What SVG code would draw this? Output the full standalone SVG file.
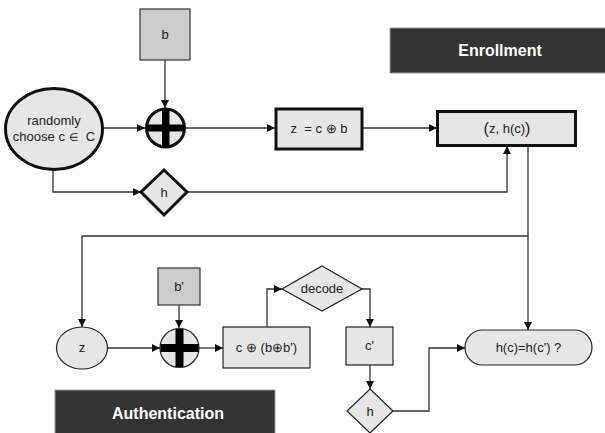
<svg xmlns="http://www.w3.org/2000/svg" width="605" height="433" viewBox="0 0 605 433">
  <style>
    .t { font-family: "Liberation Sans", Arial, sans-serif; font-size: 13px; fill: #222; text-anchor: middle; white-space: pre; }
    .lbl { font-family: "Liberation Sans", Arial, sans-serif; font-size: 16px; font-weight: bold; fill: #fff; text-anchor: middle; }
    .light { fill: #e6e6e6; stroke: #222; stroke-width: 1.2; }
    .lightb { fill: #e6e6e6; stroke: #111; stroke-width: 3; }
    .mid { fill: #cccccc; stroke: #333; stroke-width: 1.2; }
    .banner { fill: #333333; stroke: #999; stroke-width: 1; }
    .bar { fill: #000; }
    .wire { fill: none; stroke: #333; stroke-width: 1.3; }
    .arr { marker-end: url(#ah); }
  </style>
  <defs>
    <marker id="ah" viewBox="0 0 10 10" refX="10" refY="5" markerWidth="8" markerHeight="8" markerUnits="userSpaceOnUse" orient="auto">
      <path d="M0,0 L10,5 L0,10 Z" fill="#111"/>
    </marker>
  </defs>

  <rect width="605" height="433" fill="#fff"/>

  <!-- connectors -->
  <g id="connectors">
    <path class="wire arr" d="M165,60 V108"/>
    <path class="wire arr" d="M103,128 H145"/>
    <path class="wire arr" d="M185,128 H275"/>
    <path class="wire arr" d="M363,128 H437"/>
    <path class="wire arr" d="M53,170 V192 H141"/>
    <path class="wire arr" d="M188,192 H507 V146"/>
    <path class="wire arr" d="M528,146 V236 H82 V327"/>
    <path class="wire arr" d="M528,236 V330"/>
    <path class="wire arr" d="M108,348 H160"/>
    <path class="wire arr" d="M179,305 V328"/>
    <path class="wire arr" d="M199,348 H223"/>
    <path class="wire arr" d="M267,327 V289 H282"/>
    <path class="wire arr" d="M362,289 H370 V327"/>
    <path class="wire arr" d="M370,365 V389"/>
    <path class="wire arr" d="M393,411 H429 V348 H465"/>
  </g>

  <!-- enrollment -->
  <g id="banner-enrollment">
    <rect class="banner" x="390" y="28" width="216" height="45"/>
    <text class="lbl" x="500" y="56">Enrollment</text>
  </g>

  <g id="b">
    <rect class="mid" x="140" y="9" width="50" height="51"/>
    <text class="t" x="165" y="39">b</text>
  </g>

  <g id="choose">
    <ellipse class="lightb" cx="54" cy="129" rx="48.5" ry="40.5"/>
    <text class="t" x="54" y="125">randomly</text>
    <text class="t" x="54" y="141">choose c <tspan font-size="11">∈</tspan>&#160; C</text>
  </g>

  <g id="xor1">
    <circle class="lightb" cx="165.5" cy="128" r="19"/>
    <rect class="bar" x="146.5" y="124.5" width="38" height="7"/>
    <rect class="bar" x="162" y="109" width="7.5" height="38"/>
  </g>

  <g id="zbox">
    <rect class="lightb" x="276" y="109" width="86" height="40"/>
    <text class="t" x="319" y="133">z&#160; = c ⊕ b</text>
  </g>

  <g id="hash1">
    <polygon class="lightb" points="164,170 187,192 164,215 141,192"/>
    <text class="t" x="164" y="197">h</text>
  </g>

  <g id="helper">
    <rect class="lightb" x="437.5" y="111.5" width="138" height="34"/>
    <text class="t" x="507" y="133"><tspan font-size="16" dy="1">(</tspan><tspan dy="-1">z, h(c)</tspan><tspan font-size="16" dy="1">)</tspan></text>
  </g>

  <!-- authentication -->
  <g id="banner-authentication">
    <rect class="banner" x="55" y="390" width="220" height="45"/>
    <text class="lbl" x="168" y="419">Authentication</text>
  </g>

  <g id="z">
    <ellipse class="light" cx="82" cy="348" rx="25.5" ry="21"/>
    <text class="t" x="82" y="352">z</text>
  </g>

  <g id="bprime">
    <rect class="mid" x="158" y="268" width="42" height="37"/>
    <text class="t" x="179" y="291">b'</text>
  </g>

  <g id="xor2">
    <circle class="light" cx="179.5" cy="348" r="19.5"/>
    <rect class="bar" x="160.5" y="344" width="38" height="8"/>
    <rect class="bar" x="175.5" y="329" width="8" height="38"/>
  </g>

  <g id="noisy">
    <rect class="light" x="223" y="327" width="87" height="41"/>
    <text class="t" x="266.5" y="352">c ⊕ (b⊕b')</text>
  </g>

  <g id="decode">
    <polygon class="light" points="322,266 362,289 322,311 282,289"/>
    <text class="t" x="322" y="293">decode</text>
  </g>

  <g id="cprime">
    <rect class="light" x="346" y="327" width="47" height="38"/>
    <text class="t" x="369.5" y="350">c'</text>
  </g>

  <g id="hash2">
    <polygon class="light" points="370,389 393,411 370,433 347,411"/>
    <text class="t" x="370" y="416">h</text>
  </g>

  <g id="compare">
    <rect class="light" x="465" y="330" width="127" height="35" rx="17.5" ry="17.5"/>
    <text class="t" x="528.5" y="352">h(c)=h(c') ?</text>
  </g>
</svg>
